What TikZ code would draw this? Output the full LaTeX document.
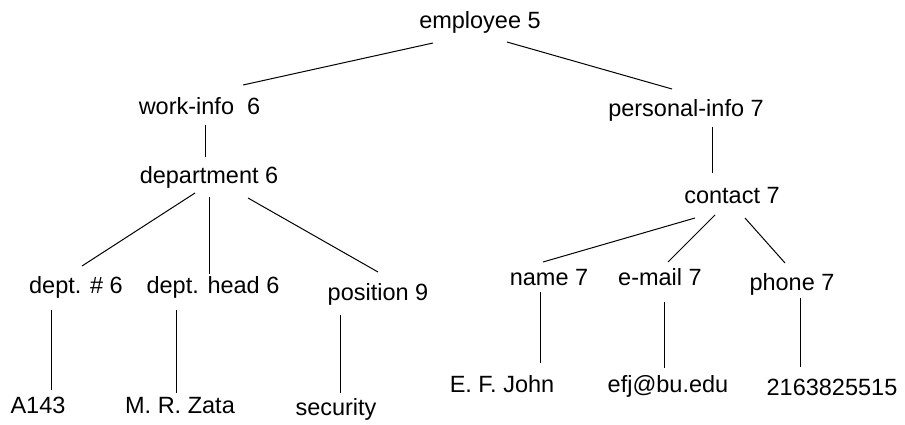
\documentclass[tikz,border=0pt]{standalone}
\usepackage{fontspec}
\setmainfont{Liberation Sans}
\usepackage{tikz}
\tikzstyle{ElemNode}=[anchor=base, inner sep=0pt, font=\fontsize{23.5}{28}\selectfont]
\tikzstyle{ValueNode}=[ElemNode]
\tikzstyle{TreeEdge}=[line width=1pt]

\begin{document}
\begin{tikzpicture}[x=1pt, y=-1pt]
\useasboundingbox (0,0) rectangle (905,425);

\node[ElemNode](EMP) at (480,29) {employee 5};
\node[ElemNode](WORK) at (199.5,115) {work-info\ \ 6};
\node[ElemNode](PERS) at (686,117) {personal-info 7};
\node[ElemNode](DEPT) at (209,183) {department 6};
\node[ElemNode](CONTACT) at (732,204) {contact 7};
\node[ElemNode](DEPTNO) at (76,293) {dept. \# 6};
\node[ElemNode](DEPTHEAD) at (213,293) {dept. head 6};
\node[ElemNode](POS) at (378,300) {position 9};
\node[ElemNode](NAME) at (549,285) {name 7};
\node[ElemNode](EMAIL) at (660,285) {e-mail 7};
\node[ElemNode](PHONE) at (792,290) {phone 7};

\node[ValueNode](A143) at (38,413) {A143};
\node[ValueNode](ZATA) at (180,413) {M. R. Zata};
\node[ValueNode](SEC) at (336,415) {security};
\node[ValueNode](JOHN) at (502,392) {E. F. John};
\node[ValueNode](MAILVAL) at (668,392) {efj@bu.edu};
\node[ValueNode](NUM) at (832,395) {2163825515};

\draw[TreeEdge]([shift={(-47,14)}]EMP.base) -- ([shift={(43.5,-30)}]WORK.base);
\draw[TreeEdge]([shift={(27,13)}]EMP.base) -- ([shift={(-14,-28)}]PERS.base);
\draw[TreeEdge]([shift={(5.5,10)}]WORK.base) -- ([shift={(-4,-26)}]DEPT.base);
\draw[TreeEdge]([shift={(26,10)}]PERS.base) -- ([shift={(-20,-31)}]CONTACT.base);

\draw[TreeEdge]([shift={(-14,10)}]DEPT.base) -- ([shift={(6,-27)}]DEPTNO.base);
\draw[TreeEdge]([shift={(0,14)}]DEPT.base) -- ([shift={(-4,-19)}]DEPTHEAD.base);
\draw[TreeEdge]([shift={(39,15)}]DEPT.base) -- ([shift={(0,-28)}]POS.base);
\draw[TreeEdge]([shift={(-37,14)}]CONTACT.base) -- ([shift={(-6,-23)}]NAME.base);
\draw[TreeEdge]([shift={(-17,11)}]CONTACT.base) -- ([shift={(8,-23)}]EMAIL.base);
\draw[TreeEdge]([shift={(13,14)}]CONTACT.base) -- ([shift={(-7,-27)}]PHONE.base);

\draw[TreeEdge]([shift={(-25,17)}]DEPTNO.base) -- ([shift={(13,-23)}]A143.base);
\draw[TreeEdge]([shift={(-37,17)}]DEPTHEAD.base) -- ([shift={(-4,-20)}]ZATA.base);
\draw[TreeEdge]([shift={(-38,15)}]POS.base) -- ([shift={(4,-22)}]SEC.base);
\draw[TreeEdge]([shift={(-9,7)}]NAME.base) -- ([shift={(38,-29)}]JOHN.base);
\draw[TreeEdge]([shift={(4,17)}]EMAIL.base) -- ([shift={(-4,-24)}]MAILVAL.base);
\draw[TreeEdge]([shift={(8,8)}]PHONE.base) -- ([shift={(-32,-28)}]NUM.base);
\end{tikzpicture}
\end{document}
